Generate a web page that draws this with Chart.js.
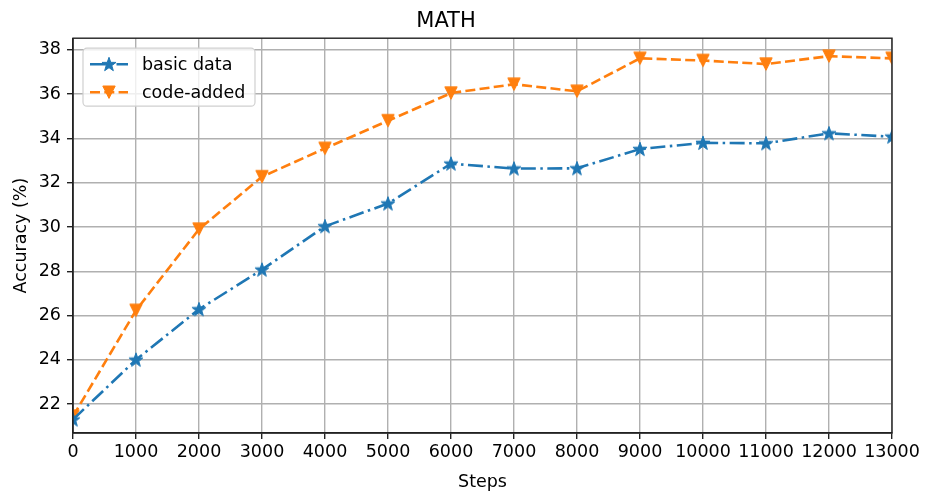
<!DOCTYPE html>
<html>
<head>
<meta charset="utf-8">
<script src="https://cdn.jsdelivr.net/npm/chart.js@4"></script>
<style>
body{margin:0;background:#fff}
canvas{display:block}
</style>
</head>
<body>
<canvas id="chart" width="926" height="493"></canvas>
<script>
const steps = [0,1000,2000,3000,4000,5000,6000,7000,8000,9000,10000,11000,12000,13000]
const basicData = [21.3,24.0,26.28,28.07,30.03,31.06,32.86,32.64,32.65,33.52,33.8,33.78,34.23,34.08]
const codeAdded = [21.45,26.23,29.9,32.27,33.55,34.8,36.05,36.45,36.13,37.62,37.52,37.36,37.72,37.62]
const xTicks = [0,1000,2000,3000,4000,5000,6000,7000,8000,9000,10000,11000,12000,13000]
const yTicks = [22,24,26,28,30,32,34,36,38]

const BLUE = "#1f77b4"
const ORANGE = "#ff7f0e"
const FONT = "'DejaVu Sans', sans-serif"

function starPath(ctx, cx, cy, r){
ctx.beginPath()
for(let i=0;i<10;i++){
const rr = i%2==0 ? r : r*0.4
const a = -Math.PI/2 + i*Math.PI/5
const px = cx + rr*Math.cos(a), py = cy + rr*Math.sin(a)
if(i==0) ctx.moveTo(px,py); else ctx.lineTo(px,py)
}
ctx.closePath()
}
function triPath(ctx, cx, cy, s){
ctx.beginPath()
ctx.moveTo(cx - s/2, cy - s/2)
ctx.lineTo(cx + s/2, cy - s/2)
ctx.lineTo(cx, cy + s/2)
ctx.closePath()
}
function makeMarker(kind, color){
const c = document.createElement("canvas")
c.width = 20; c.height = 20
const g = c.getContext("2d")
g.fillStyle = color; g.strokeStyle = color; g.lineWidth = 1; g.lineJoin = "miter"
if(kind=="star") starPath(g,10,10.5,7.4); else triPath(g,10,10,12.4)
g.fill(); g.stroke()
return c
}
const starImg = makeMarker("star", BLUE)
const triImg = makeMarker("tri", ORANGE)

const framePlugin = {
id:"frame",
afterDatasetsDraw(chart){
const {ctx, chartArea:a} = chart
ctx.save()
ctx.strokeStyle = "#222"; ctx.lineWidth = 1.4
ctx.strokeRect(a.left, a.top, a.right-a.left, a.bottom-a.top)
ctx.restore()
}
}

const legendItems = [
{text:"basic data", color:BLUE, dash:[15,4.5,2.5,4.5], marker:"star"},
{text:"code-added", color:ORANGE, dash:[10,4.3], marker:"tri"}
]
const legendPlugin = {
id:"mplLegend",
afterDraw(chart){
const ctx = chart.ctx
const a = chart.chartArea
const x0 = a.left + 10, y0 = a.top + 10, w = 172, h = 58
ctx.save()
ctx.beginPath()
ctx.roundRect(x0, y0, w, h, 4)
ctx.fillStyle = "rgba(255,255,255,0.8)"; ctx.fill()
ctx.strokeStyle = "#d0d0d0"; ctx.lineWidth = 1.2; ctx.stroke()
legendItems.forEach((it,i)=>{
const cy = y0 + 16 + i*28
ctx.setLineDash(it.dash)
ctx.strokeStyle = it.color; ctx.lineWidth = 2.6
ctx.beginPath(); ctx.moveTo(x0+7, cy); ctx.lineTo(x0+45, cy); ctx.stroke()
ctx.setLineDash([])
ctx.fillStyle = it.color; ctx.strokeStyle = it.color; ctx.lineWidth = 1
if(it.marker=="star") starPath(ctx, x0+26, cy+0.5, 7.4); else triPath(ctx, x0+26, cy, 12.4)
ctx.fill(); ctx.stroke()
ctx.fillStyle = "#000"; ctx.font = "17.5px " + FONT; ctx.textBaseline = "middle"
ctx.fillText(it.text, x0+59, cy+1)
})
ctx.restore()
}
}

new Chart(document.getElementById("chart"),{
type:"line",
data:{
datasets:[{
label:"basic data",
data:steps.map((s,i)=>({x:s,y:basicData[i]})),
borderColor:BLUE,
backgroundColor:BLUE,
borderWidth:2.6,
borderDash:[15,4.5,2.5,4.5],
pointStyle:starImg,
clip:0,
tension:0
},{
label:"code-added",
data:steps.map((s,i)=>({x:s,y:codeAdded[i]})),
borderColor:ORANGE,
backgroundColor:ORANGE,
borderWidth:2.6,
borderDash:[10,4.3],
pointStyle:triImg,
clip:0,
tension:0
}]
},
options:{
responsive:false,
animation:false,
devicePixelRatio:1,
layout:{padding:{left:0,right:34,top:0,bottom:0}},
plugins:{
legend:{display:false},
tooltip:{enabled:false},
title:{
display:true,
text:"MATH",
color:"#000",
font:{family:FONT,size:21,weight:"normal"},
padding:{top:9,bottom:4}
}
},
scales:{
x:{
type:"linear",
min:0,
max:13000,
afterBuildTicks(scale){ scale.ticks = xTicks.map(v=>({value:v})) },
afterFit(scale){ scale.height = 60 },
ticks:{color:"#000",font:{family:FONT,size:17.5},padding:3,maxRotation:0,autoSkip:false,callback:v=>String(v)},
grid:{color:"#b0b0b0",lineWidth:1.4,tickColor:"#222",tickLength:6,tickWidth:1.4},
border:{color:"#222",width:1.4},
title:{display:true,text:"Steps",color:"#000",font:{family:FONT,size:17.5},padding:{top:0,bottom:0}}
},
y:{
min:20.69,
max:38.53,
afterBuildTicks(scale){ scale.ticks = yTicks.map(v=>({value:v})) },
afterFit(scale){ scale.width = 73 },
ticks:{color:"#000",font:{family:FONT,size:17.5},padding:6,callback:v=>String(v)},
grid:{color:"#b0b0b0",lineWidth:1.4,tickColor:"#222",tickLength:6,tickWidth:1.4},
border:{color:"#222",width:1.4},
title:{display:true,text:"Accuracy (%)",color:"#000",font:{family:FONT,size:17.5},padding:{top:11,bottom:0}}
}
}
},
plugins:[framePlugin, legendPlugin]
})
</script>
</body>
</html>
